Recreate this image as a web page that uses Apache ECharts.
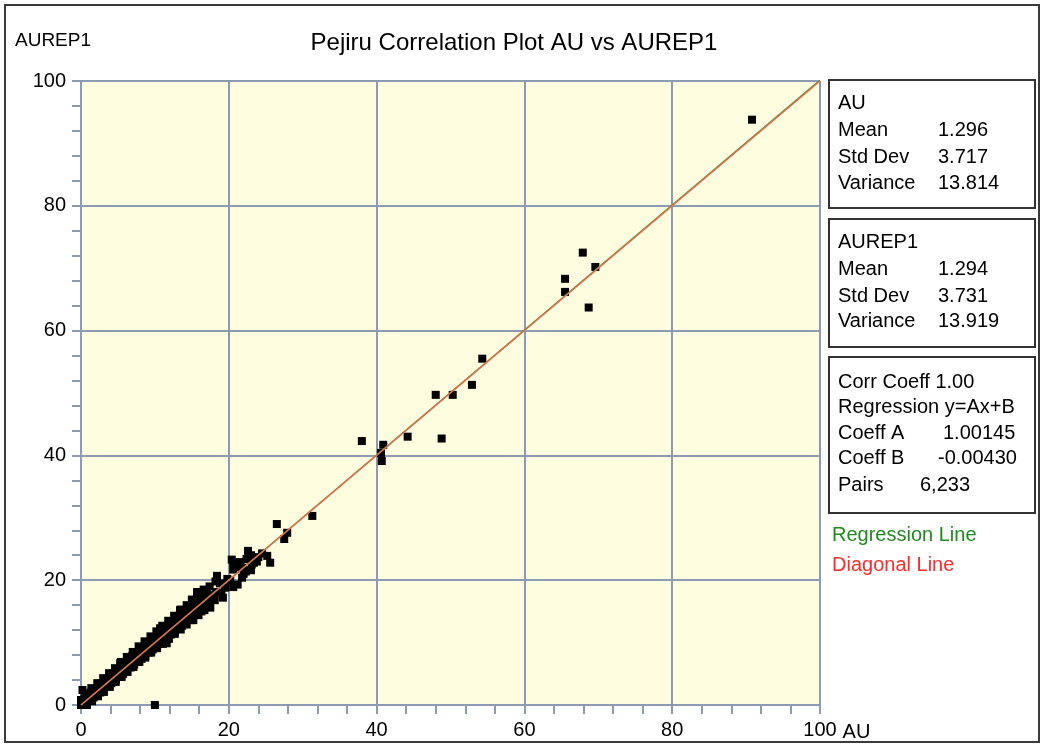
<!DOCTYPE html>
<html>
<head>
<meta charset="utf-8">
<script src="https://cdn.jsdelivr.net/npm/echarts@6/dist/echarts.min.js"></script>
<style>
html,body{margin:0;padding:0;background:#fff;}
#chart{width:1044px;height:747px;}
</style>
</head>
<body>
<div id="chart"></div>
<script>
// ---- data ----
const titleText = 'Pejiru Correlation Plot AU vs AUREP1';
const xName = 'AU';
const yName = 'AUREP1';
const axisTicks = [0, 20, 40, 60, 80, 100];

// paired samples: AU (x) and AUREP1 (y)
const auValues = [
  0.0,0.1,0.3,0.2,0.5,0.4,0.7,0.2,0.6,0.9,1.0,1.3,0.9,1.4,1.7,1.3,1.9,2.1,1.8,2.4,
  2.6,2.3,2.9,3.1,2.8,3.4,3.6,3.3,3.9,4.1,3.8,4.4,4.7,4.3,4.9,5.2,4.8,5.3,5.4,5.7,
  5.4,5.9,6.2,5.9,6.4,6.7,6.4,6.9,7.2,6.9,7.4,7.7,7.4,7.9,8.2,8.0,8.4,8.7,8.4,8.9,
  9.2,8.9,9.4,9.7,9.4,9.9,10.2,9.9,10.0,10.4,10.7,10.4,10.7,10.9,11.2,11.6,10.9,11.4,11.7,11.3,
  11.9,12.2,11.8,12.4,12.7,12.3,12.9,13.2,12.8,13.4,13.4,13.7,13.3,13.9,14.2,13.8,14.4,14.8,14.4,14.9,
  15.2,15.3,14.9,15.4,15.7,15.7,15.4,15.9,16.3,16.1,16.4,16.8,16.1,17.0,16.9,17.5,17.3,17.8,18.4,18.3,
  19.2,18.8,19.5,19.8,20.2,20.6,21.2,21.8,20.4,20.6,20.6,21.0,21.5,21.6,21.9,22.0,22.3,22.4,22.6,23.0,
  23.1,23.0,23.4,23.8,24.0,24.5,25.2,25.6,26.5,27.5,27.9,31.3,38.0,40.6,40.7,40.9,44.2,48.0,48.8,50.3,
  52.9,54.3,65.5,65.5,67.9,68.7,69.6,90.8,
  0.8,0.0,1.5,0.5,2.3,1.4,3.1,2.2,3.9,3.0,4.7,3.8,5.5,4.6,6.3,5.4,7.1,6.2,7.9,7.0,
  8.7,7.8,9.5,8.6,10.3,9.4,11.1,10.2,11.9,11.0,12.7,11.8,13.5,12.6,14.3,13.5,15.1,14.3,15.9,15.0,
  16.7,15.8,17.4,16.6,18.1,17.4,19.0,18.2
];
const aurep1Values = [
  0.0,0.3,0.1,0.6,0.3,0.9,0.5,2.4,1.2,0.7,1.1,0.9,1.6,1.5,1.2,2.0,1.9,1.6,2.5,2.3,
  2.0,3.0,2.8,2.5,3.5,3.3,3.0,4.0,3.9,3.5,4.6,4.4,4.0,5.1,4.9,4.5,5.7,6.7,5.4,5.0,
  6.2,5.9,5.5,6.8,6.4,6.0,7.3,6.9,6.5,7.8,7.4,7.0,8.3,7.9,7.4,9.3,8.4,7.9,9.0,8.9,
  8.4,9.6,9.4,8.9,10.2,9.9,9.3,10.7,0.0,10.4,9.8,11.2,12.3,10.9,10.3,9.9,11.7,11.4,10.8,12.2,
  11.9,11.3,12.8,12.4,11.8,13.2,12.9,12.3,13.8,15.2,13.4,12.7,14.3,13.9,13.2,14.9,14.4,13.6,15.3,14.9,
  13.6,14.4,15.8,15.4,14.6,18.1,16.3,15.9,15.0,17.1,16.4,15.7,18.1,18.1,16.9,15.6,17.6,17.2,20.7,18.1,
  17.2,19.5,18.8,20.2,19.9,18.9,19.3,20.4,23.3,22.8,21.7,22.1,22.9,22.2,22.0,21.0,21.4,23.4,24.7,24.0,
  22.5,21.6,22.8,23.0,23.7,24.3,23.9,22.8,29.0,26.6,27.6,30.3,42.3,40.4,39.1,41.7,43.0,49.7,42.7,49.7,
  51.3,55.5,68.3,66.2,72.5,63.7,70.2,93.8,
  0.0,0.8,0.6,1.8,1.4,2.7,2.1,3.5,2.9,4.3,3.7,5.1,4.5,5.9,5.3,6.9,6.1,7.7,6.9,8.5,
  7.6,9.4,8.4,10.2,9.1,11.0,9.8,11.8,10.6,12.7,11.4,13.5,12.1,14.3,12.9,15.3,13.7,16.0,14.4,16.9,
  15.2,17.8,16.0,18.5,16.8,19.0,18.0,19.8
];

// line end points
const diagonalLine = [[0, 0], [100, 100]];
const regressionLine = [[0, -0.0043], [100, 100.1407]];

// statistics panel text
const statNames = ['Mean', 'Std Dev', 'Variance'];
const auStats = ['1.296', '3.717', '13.814'];
const aurep1Stats = ['1.294', '3.731', '13.919'];
const corrText = ['Corr Coeff 1.00', 'Regression y=Ax+B'];
const coeffNames = ['Coeff A', 'Coeff B', 'Pairs'];
const coeffValues = ['1.00145', '-0.00430', '6,233'];
const legendNames = ['Regression Line', 'Diagonal Line'];

// ---- chart ----
const FONT = 'Liberation Sans';
const gridColor = '#8C9BB1';
const pts = auValues.map((v, i) => [v, aurep1Values[i]]);

const graphics = [];
graphics.push({type:'rect', z:-1, shape:{x:5, y:5, width:1034, height:737}, style:{fill:'none', stroke:'#3a3a3a', lineWidth:2}});
function box(y, h){ graphics.push({type:'rect', shape:{x:829, y:y, width:206, height:h}, style:{fill:'#fff', stroke:'#333', lineWidth:2}}); }
function txt(x, y, s, color){ graphics.push({type:'text', x:x, y:y, style:{text:s, fill:color||'#000', font:'20px "' + FONT + '"', textVerticalAlign:'middle', verticalAlign:'middle'}}); }
box(80, 128); box(219, 128); box(357, 156);
txt(838, 103, xName);
const rowsA = [130, 157, 183];
statNames.forEach((n, i) => { txt(838, rowsA[i], n); txt(938, rowsA[i], auStats[i]); });
txt(838, 242, yName);
const rowsB = [269, 296, 321];
statNames.forEach((n, i) => { txt(838, rowsB[i], n); txt(938, rowsB[i], aurep1Stats[i]); });
txt(838, 382, corrText[0]);
txt(838, 407, corrText[1]);
const rowsC = [433, 458, 485];
const valX = [943, 938, 920];
coeffNames.forEach((n, i) => { txt(838, rowsC[i], n); txt(valX[i], rowsC[i], coeffValues[i]); });
txt(832, 535, legendNames[0], '#1f8a1f');
txt(832, 565, legendNames[1], '#ff2a2a');
graphics.push({type:'text', x:15, y:41, style:{text:yName, fill:'#000', font:'19px "' + FONT + '"', textVerticalAlign:'middle', verticalAlign:'middle'}});

const axisCommon = {
  type:'value', min:axisTicks[0], max:axisTicks[axisTicks.length-1], interval:axisTicks[1]-axisTicks[0],
  axisLine:{show:true, lineStyle:{color:gridColor, width:2}},
  axisTick:{show:true, length:9, lineStyle:{color:gridColor, width:2}},
  minorTick:{show:true, splitNumber:5, length:9, lineStyle:{color:gridColor, width:2}},
  splitLine:{show:true, lineStyle:{color:gridColor, width:2}},
  axisLabel:{color:'#000', fontFamily:FONT, fontSize:20}
};

const option = {
  animation:false,
  backgroundColor:'#fff',
  title:{text:titleText, left:509, textAlign:'center', top:26, textStyle:{fontFamily:FONT, fontSize:24, fontWeight:'normal', color:'#000'}},
  grid:{left:81, right:224, top:81, bottom:42, show:true, backgroundColor:'#FFFDE0', borderWidth:0},
  xAxis:Object.assign({}, axisCommon, {
    name:xName, nameLocation:'end', nameGap:22,
    nameTextStyle:{fontFamily:FONT, fontSize:20, color:'#000', verticalAlign:'top', align:'left', padding:[17,0,0,0]},
    axisLabel:Object.assign({}, axisCommon.axisLabel, {margin:15})
  }),
  yAxis:Object.assign({}, axisCommon, {
    axisLabel:Object.assign({}, axisCommon.axisLabel, {margin:15})
  }),
  graphic:graphics,
  series:[
    {type:'scatter', data:pts, symbol:'rect', symbolSize:8, itemStyle:{color:'#000', opacity:1}, z:2, silent:true},
    {type:'line', data:regressionLine, symbol:'none', lineStyle:{color:'#3a9a3a', width:1.5}, z:3, silent:true},
    {type:'line', data:diagonalLine, symbol:'none', lineStyle:{color:'#EE6A4E', width:1.5}, z:4, silent:true}
  ]
};
const chart = echarts.init(document.getElementById('chart'), null, {renderer:'canvas'});
chart.setOption(option);
</script>
</body>
</html>
